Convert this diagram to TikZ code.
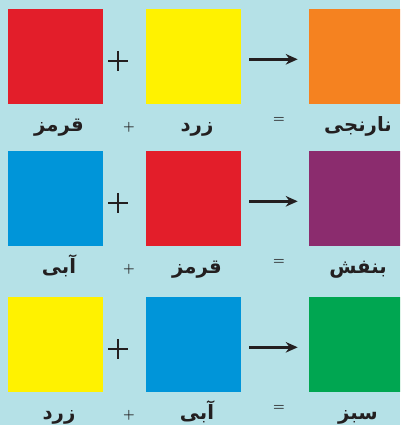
\documentclass[tikz,border=0pt]{standalone}
\usepackage{fontspec}
\newfontfamily\arabicfont[Script=Arabic]{DejaVu Sans}
\TeXXeTstate=1
\usetikzlibrary{arrows.meta}
\definecolor{bgblue}{HTML}{B5E1E7}
\definecolor{mixred}{HTML}{E31E2A}
\definecolor{mixyellow}{HTML}{FFF200}
\definecolor{mixorange}{HTML}{F58220}
\definecolor{mixblue}{HTML}{0095D9}
\definecolor{mixpurple}{HTML}{8B2C6E}
\definecolor{mixgreen}{HTML}{00A651}
\definecolor{ink}{HTML}{231F20}
\tikzset{
  swatch/.style={minimum size=2.375cm,inner sep=0pt,fill=#1},
  colname/.style={font=\arabicfont\bfseries\fontsize{14}{16}\selectfont,text=ink,anchor=base,inner sep=0pt},
  opsign/.style={font=\bfseries\small,text=ink,inner sep=0pt},
  mixarrow/.style={ink,line width=1.9pt,-{Stealth[length=8.5pt,width=7.5pt]},shorten <=0.2cm,shorten >=0.275cm}
}
\begin{document}
\begin{tikzpicture}[x=0.025cm,y=-0.025cm]
  \useasboundingbox (0,0) rectangle (400,425);
  \clip (0,0) rectangle (400,425);
  \fill[bgblue] (0,0) rectangle (400,425);
  % one row per mixture
  \foreach \r/\yc/\ca/\cb/\cc/\na/\nb/\nc in {%
      1/56.5/mixred/mixyellow/mixorange/قرمز/زرد/نارنجی,
      2/198.5/mixblue/mixred/mixpurple/آبی/قرمز/بنفش,
      3/344.5/mixyellow/mixblue/mixgreen/زرد/آبی/سبز}{
    \node[swatch=\ca] (a\r) at (55.5,\yc) {};
    \node[swatch=\cb] (b\r) at (193.5,\yc) {};
    \node[swatch=\cc] (c\r) at (356.5,\yc) {};
    \draw[ink,line width=1.4pt] (108,\yc+4.5) -- (128,\yc+4.5) (118,\yc-5.5) -- (118,\yc+14.5);
    \draw[mixarrow] ([yshift=-0.07cm]b\r.east) -- ([yshift=-0.07cm]c\r.west);
    \node[colname] (na\r) at (59,\yc+75) {\beginR\na\endR};
    \node[colname] (nb\r) at (197,\yc+75) {\beginR\nb\endR};
    \node[colname] (nc\r) at (358,\yc+75) {\beginR\nc\endR};
    \node[opsign] (plus\r) at (129,\yc+70.5) {+};
    \node[opsign] (eq\r) at (279,\yc+63) {=};
  }
\end{tikzpicture}
\end{document}
